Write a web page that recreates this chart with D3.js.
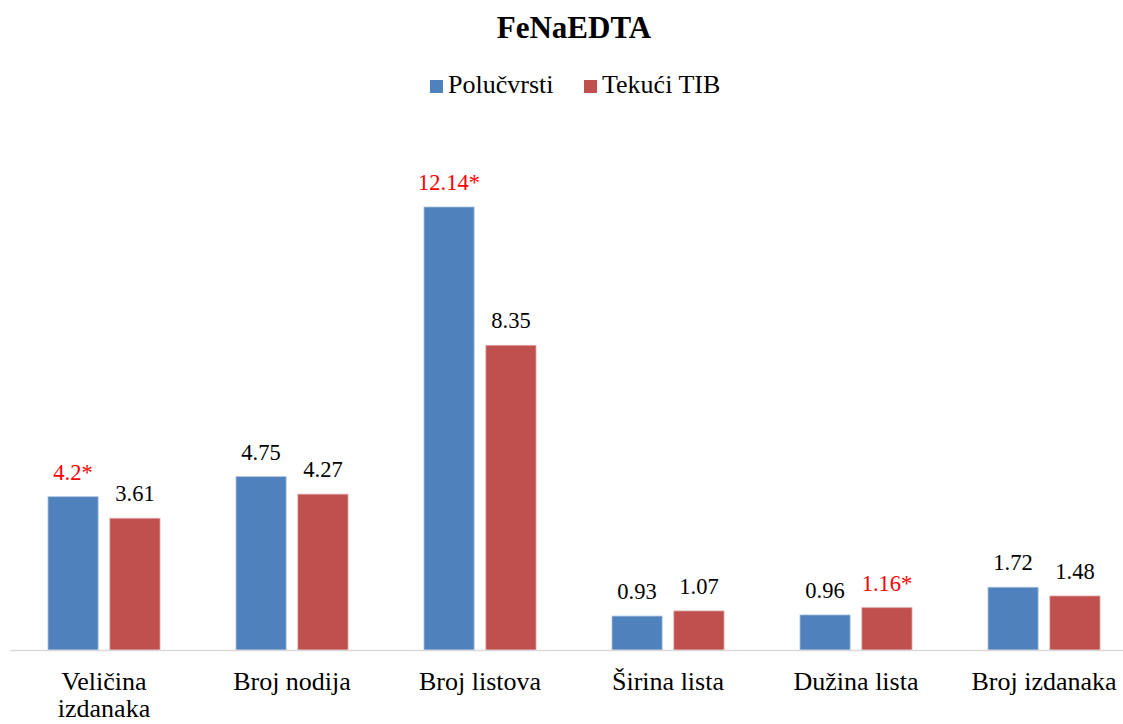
<!DOCTYPE html>
<html>
<head>
<meta charset="utf-8">
<script src="https://cdn.jsdelivr.net/npm/d3@7"></script>
<style>
  body { margin: 0; background: #fff; overflow: hidden; }
  svg { font-family: "Liberation Serif", "Times New Roman", serif; }
</style>
</head>
<body>
<svg id="chart" width="1123" height="724"></svg>
<script>
// chart data
let categories = ["Veličina izdanaka", "Broj nodija", "Broj listova", "Širina lista", "Dužina lista", "Broj izdanaka"];
let seriesNames = ["Polučvrsti", "Tekući TIB"];
let polucvrsti = [4.2, 4.75, 12.14, 0.93, 0.96, 1.72];
let tekuci = [3.61, 4.27, 8.35, 1.07, 1.16, 1.48];
// which values carry the significance star
let starPolucvrsti = [true, false, true, false, false, false];
let starTekuci = [false, false, false, false, true, false];

let colors = ["#4F81BD", "#C0504D"];

let svg = d3.select("#chart");

let baseY = 650;
let x0 = d3.scaleBand().domain(categories).range([10, 1138]).paddingInner(0).paddingOuter(0);
let x1 = d3.scaleBand().domain([0, 1]).range([x0.bandwidth() / 2 - 56, x0.bandwidth() / 2 + 56]).paddingInner(0.19);
let y = d3.scaleLinear().domain([0, 12.14]).range([baseY, 207]);

// title
svg.append("text")
  .attr("x", 574).attr("y", 38)
  .attr("text-anchor", "middle")
  .style("font-size", "31px").style("font-weight", "bold")
  .text("FeNaEDTA");

// legend
let legend = svg.append("g").attr("class", "legend");
let legendX = [430, 584];
seriesNames.forEach(function(name, i){
  legend.append("rect")
    .attr("x", legendX[i]).attr("y", 80)
    .attr("width", 13).attr("height", 13)
    .style("fill", colors[i]);
  legend.append("text")
    .attr("x", legendX[i] + 18).attr("y", 93)
    .style("font-size", "26px")
    .text(name);
});

// rows for each category
let rows = categories.map(function(c, i){
  return [
    {cat: c, s: 0, v: polucvrsti[i], star: starPolucvrsti[i]},
    {cat: c, s: 1, v: tekuci[i], star: starTekuci[i]}
  ];
});

let groups = svg.append("g").selectAll("g")
  .data(rows)
  .enter().append("g")
    .attr("transform", function(d){ return "translate(" + x0(d[0].cat) + ",0)"; });

groups.selectAll("rect")
  .data(function(d){ return d; })
  .enter().append("rect")
    .attr("x", function(d){ return x1(d.s); })
    .attr("y", function(d){ return y(d.v); })
    .attr("width", x1.bandwidth())
    .attr("height", function(d){ return baseY - y(d.v); })
    .style("fill", function(d){ return colors[d.s]; })
    .style("stroke", function(d){ return d.s == 0 ? "#a9c0de" : "#dca5a4"; })
    .style("stroke-width", 0.8);

groups.selectAll("text.val")
  .data(function(d){ return d; })
  .enter().append("text")
    .attr("class", "val")
    .attr("x", function(d){ return x1(d.s) + x1.bandwidth() / 2; })
    .attr("y", function(d){ return y(d.v) - 17; })
    .attr("text-anchor", "middle")
    .style("font-size", "22.5px")
    .style("fill", function(d){ return d.star ? "#FF0000" : "#000"; })
    .text(function(d){ return d.v + (d.star ? "*" : ""); });

// baseline
svg.append("line")
  .attr("x1", 10).attr("x2", 1138)
  .attr("y1", baseY + 0.5).attr("y2", baseY + 0.5)
  .style("stroke", "#d9d9d9").style("stroke-width", 1.5);

// category labels, wrapped when long
let xAxis = d3.axisBottom(x0).tickSize(0).tickPadding(0);
let axisG = svg.append("g").attr("transform", "translate(0," + baseY + ")").call(xAxis);
axisG.select(".domain").remove();
axisG.selectAll(".tick text").each(function(d){
  let t = d3.select(this);
  t.text(null)
    .attr("y", 0).attr("dy", null)
    .style("font-size", "26px")
    .style("font-family", "'Liberation Serif', 'Times New Roman', serif")
    .style("fill", "#000");
  let lines = d === "Veličina izdanaka" ? ["Veličina", "izdanaka"] : [d];
  lines.forEach(function(line, i){
    t.append("tspan").attr("x", 0).attr("y", 40 + i * 27).text(line);
  });
});
</script>
</body>
</html>
